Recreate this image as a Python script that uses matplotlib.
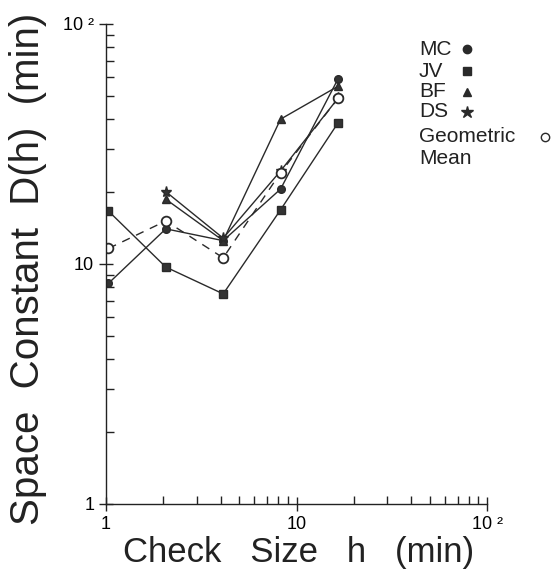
import numpy as np
from matplotlib import pyplot as plt
from matplotlib.ticker import FixedLocator, NullFormatter

# check sizes (min)
h = [1.03, 2.06, 4.12, 8.24, 16.5]

mc = [8.3, 14.0, 12.5, 20.5, 59.0]
jv = [16.6, 9.7, 7.5, 16.8, 38.7]
bf_h = h[1:]
bf = [18.6, 12.5, 40.1, 55.0]
ds_h = h[1:]
ds = [20.0, 12.8, 24.4, 49.0]
gm = [11.6, 15.1, 10.6, 24.0, 49.0]

names = ['MC', 'JV', 'BF', 'DS']
marks = ['o', 's', '^', '*']

plt.rcParams['font.family'] = ['Liberation Sans', 'DejaVu Sans']

fig = plt.figure(figsize=(5.58, 5.70), dpi=100)
ax = fig.add_axes([0.19, 0.116, 0.683, 0.842])

kw = dict(color='#2a2a2a', lw=1.0, mec='#2a2a2a', mfc='#333333')
ax.plot(h, mc, marker='o', ms=5.5, **kw)
ax.plot(h, jv, marker='s', ms=5.5, **kw)
ax.plot(bf_h, bf, marker='^', ms=5.5, **kw)
ax.plot(ds_h, ds, marker='*', ms=8, **kw)
ax.plot(h, gm, marker='o', ms=7, ls=(0, (6, 5)), color='#2a2a2a', lw=1.0,
        mfc='white', mec='#2a2a2a', mew=1.3)

ax.set_xscale('log')
ax.set_yscale('log')
ax.set_xlim(1, 100)
ax.set_ylim(1, 100)

for s in ['top', 'right']:
    ax.spines[s].set_visible(False)
for s in ['left', 'bottom']:
    ax.spines[s].set_linewidth(1.0)
    ax.spines[s].set_color('#222222')

ax.xaxis.set_major_locator(FixedLocator([1, 10, 100]))
ax.yaxis.set_major_locator(FixedLocator([1, 10, 100]))
minors = [m * d for d in [1, 10] for m in range(2, 10)]
ax.xaxis.set_minor_locator(FixedLocator(minors))
ax.yaxis.set_minor_locator(FixedLocator(minors))
ax.xaxis.set_minor_formatter(NullFormatter())
ax.yaxis.set_minor_formatter(NullFormatter())
ax.set_xticklabels(['1', '10', '10 ²'])
ax.set_yticklabels(['1', '10', '10 ²'])
ax.tick_params(which='major', direction='inout', length=10, width=1.0,
               labelsize=13, color='#222222')
ax.tick_params(which='minor', direction='in', length=6, width=1.0, color='#222222')
ax.tick_params(axis='x', pad=4)

ax.set_xlabel('Check   Size   h   (min)', fontsize=25, color='#222222')
ax.set_ylabel('Space  Constant  D(h)  (min)', fontsize=29, color='#222222')
ax.xaxis.set_label_coords(0.505, -0.066)
ax.yaxis.set_label_coords(-0.155, 0.49)

# legend drawn by hand
ly = [0.914, 0.875, 0.839, 0.804]
for nm, mk, y in zip(names, marks, ly):
    fig.text(0.751, y, nm, fontsize=15, va='center', color='#222222')
    ax.plot([0.837], [y], marker=mk, ms=6 if mk != '*' else 9, color='#2a2a2a',
            transform=fig.transFigure, clip_on=False)
fig.text(0.751, 0.760, 'Geometric', fontsize=15, va='center', color='#222222')
fig.text(0.751, 0.722, 'Mean', fontsize=15, va='center', color='#222222')
ax.plot([0.977], [0.760], marker='o', ms=6, mfc='white', mec='#2a2a2a',
        transform=fig.transFigure, clip_on=False)

fig.savefig('out.png', dpi=100)
